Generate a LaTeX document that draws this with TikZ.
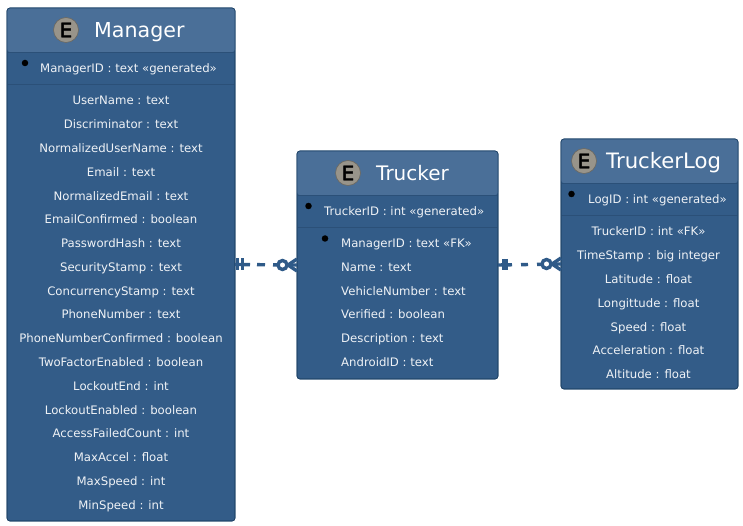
\documentclass[tikz,border=0pt]{standalone}
\usepackage{fontspec}
\setmainfont{DejaVu Sans}
\newfontfamily\badgefont[FakeBold=2]{DejaVu Sans}
\usetikzlibrary{calc}
\definecolor{bodyc}{HTML}{335C88}
\definecolor{headc}{HTML}{4A6F98}
\definecolor{edgec}{HTML}{1F4468}
\definecolor{sepc}{HTML}{2B5078}
\definecolor{linkc}{HTML}{2F5A88}
\definecolor{badge}{HTML}{98948A}
\tikzset{
  x=1pt,y=-1pt,
  entity/.style={draw=edgec,fill=bodyc,line width=.7pt,rounded corners=3pt,inner sep=0pt,outer sep=0pt,minimum width=#1},
  attr/.style={text=white!92!bodyc,font=\fontsize{11.7}{13}\selectfont,inner sep=0pt},
  attrl/.style={attr,anchor=base west},
  attrc/.style={attr,anchor=base},
  titlet/.style={text=white,font=\fontsize{#1}{24}\selectfont,inner sep=0pt,anchor=base west},
  badgec/.style={circle,fill=badge,draw=badge!70!black,line width=.6pt,minimum size=25pt,inner sep=0pt,font=\badgefont\fontsize{20}{22}\selectfont,text=black},
  keydot/.style={circle,fill=black,minimum size=6.5pt,inner sep=0pt},
  seprule/.style={draw=sepc,line width=.8pt},
  link/.style={draw=linkc,line width=3.4pt},
  crowfoot/.pic={
    \draw[link] (0,-6) -- (-9,0) -- (0,6);
    \draw[link,fill=white] (-14.5,0) circle[radius=4.5];
  },
  barswide/.pic={\draw[link] (2.5,-6) -- (2.5,5.5) (7.5,-6) -- (7.5,5.5);},
  barsnarrow/.pic={\draw[link] (5.5,-6) -- (5.5,5.5) (8.5,-6) -- (8.5,5.5);},
}
\begin{document}
\begin{tikzpicture}
\useasboundingbox (0,0) rectangle (743,526);
% Manager
\node[entity=228pt,minimum height=513pt] (mgr) at (121,264.5) {};
\fill[headc,rounded corners=3pt] (7,8) rectangle (235,52);
\draw[seprule] (7,52) -- (235,52);
\draw[seprule] (7,84) -- (235,84);
\draw[edgec,line width=.7pt,rounded corners=3pt] (7,8) rectangle (235,521);
\node[badgec] (mgrE) at (66,30) {E};
\node[titlet=20.6] (mgrT) at (94,37.7) {Manager};
\node[keydot] (mgrK) at (25,63) {};
\node[attrc] (mgrId) at (128.5,72.5) {ManagerID : text «generated»};
\foreach \t [count=\i] in {UserName : text,Discriminator : text,NormalizedUserName : text,Email : text,NormalizedEmail : text,EmailConfirmed : boolean,PasswordHash : text,SecurityStamp : text,ConcurrencyStamp : text,PhoneNumber : text,PhoneNumberConfirmed : boolean,TwoFactorEnabled : boolean,LockoutEnd : int,LockoutEnabled : boolean,AccessFailedCount : int,MaxAccel : float,MaxSpeed : int,MinSpeed : int}
  \node[attrc] (mgrA\i) at (121,{105+(\i-1)*23.77}) {\t};
% Trucker
\node[entity=201pt,minimum height=228pt] (trk) at (397.5,265) {};
\fill[headc,rounded corners=3pt] (297,151) rectangle (498,195);
\draw[seprule] (297,195) -- (498,195);
\draw[seprule] (297,227) -- (498,227);
\draw[edgec,line width=.7pt,rounded corners=3pt] (297,151) rectangle (498,379);
\node[badgec] (trkE) at (348,173) {E};
\node[titlet=20] (trkT) at (376,180.7) {Trucker};
\node[keydot] (trkK) at (308.5,206) {};
\node[attrl] (trkId) at (324,215.5) {TruckerID : int «generated»};
\node[keydot] (trkF) at (325,238.5) {};
\foreach \t [count=\i] in {ManagerID : text «FK»,Name : text,VehicleNumber : text,Verified : boolean,Description : text,AndroidID : text}
  \node[attrl] (trkA\i) at (341,{247.5+(\i-1)*23.77}) {\t};
% TruckerLog
\node[entity=177pt,minimum height=250pt] (log) at (649.5,264) {};
\fill[headc,rounded corners=3pt] (561,139) rectangle (738,183);
\draw[seprule] (561,183) -- (738,183);
\draw[seprule] (561,215) -- (738,215);
\draw[edgec,line width=.7pt,rounded corners=3pt] (561,139) rectangle (738,389);
\node[badgec] (logE) at (584,161) {E};
\node[titlet=21.2] (logT) at (606,168.7) {TruckerLog};
\node[keydot] (logK) at (571.5,194) {};
\node[attrl] (logId) at (588,203.5) {LogID : int «generated»};
\foreach \t [count=\i] in {TruckerID : int «FK»,TimeStamp : big integer,Latitude : float,Longittude : float,Speed : float,Acceleration : float,Altitude : float}
  \node[attrc] (logA\i) at (648.5,{236+(\i-1)*23.77}) {\t};
% Connectors
\draw[link,dash pattern=on 15pt off 7pt on 8pt off 8pt on 40pt off 0pt] (mgr.east) -- (trk.west);
\draw[link,dash pattern=on 14pt off 9pt on 7pt off 9pt on 40pt off 0pt] (trk.east) -- (log.west);
\pic at (mgr.east) {barswide};
\pic at (trk.west) {crowfoot};
\pic at (trk.east) {barsnarrow};
\pic at (log.west) {crowfoot};
\end{tikzpicture}
\end{document}
